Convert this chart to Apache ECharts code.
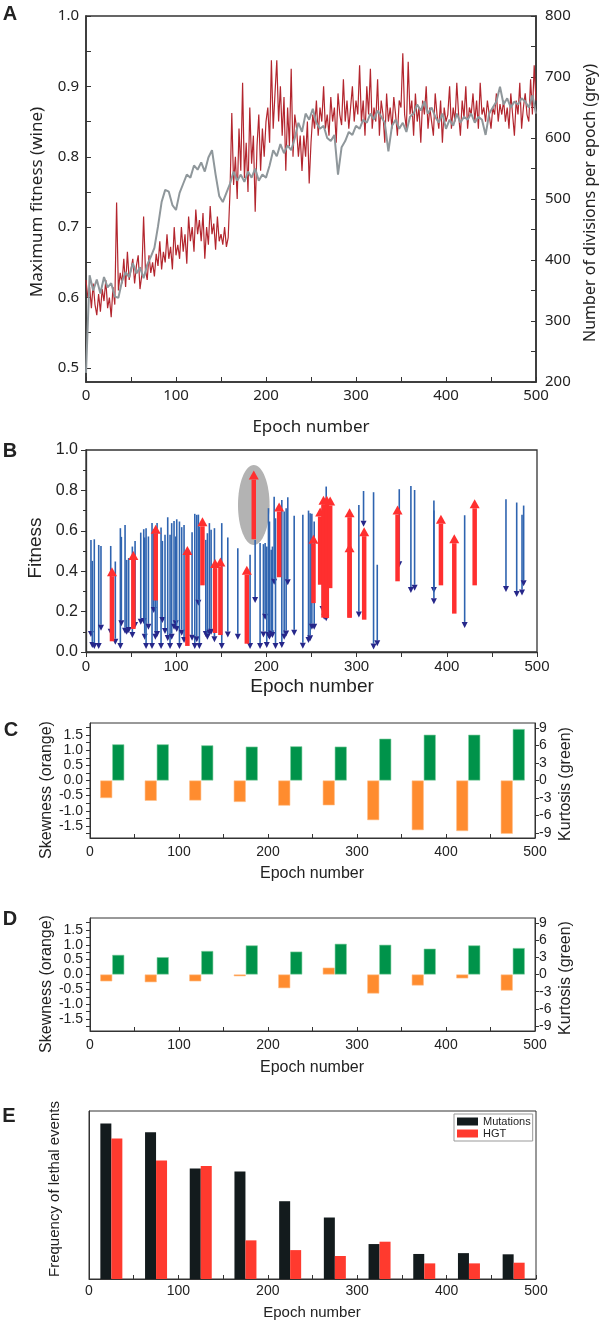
<!DOCTYPE html>
<html><head><meta charset="utf-8">
<script src="https://cdn.jsdelivr.net/npm/echarts@6/dist/echarts.min.js"></script>
<style>html,body{margin:0;padding:0;background:#fff}#c{width:600px;height:1323px}</style>
</head><body><div id="c"></div>
<script>
// ---------- Panel A ----------
const wineStep = 2;
const wineFitness = [
0.625,0.60,0.615,0.585,0.62,0.59,0.575,0.605,0.58,0.612,0.595,0.625,0.585,0.60,0.572,0.615,
0.59,0.735,0.61,0.635,0.62,0.655,0.615,0.665,0.625,0.64,0.655,0.62,0.645,0.66,0.612,
0.632,0.715,0.64,0.625,0.66,0.635,0.65,0.63,0.662,0.645,0.68,0.64,0.665,0.65,0.69,0.655,0.672,0.64,0.70,0.66,
0.675,0.655,0.70,0.665,0.69,0.648,0.715,0.68,0.70,0.665,0.725,0.69,0.71,0.68,0.72,0.655,0.70,0.675,0.73,0.69,0.705,0.668,0.715,0.68,0.69,0.675,0.70,0.672,0.685,0.75,
0.862,0.76,0.80,0.74,0.84,0.78,0.905,0.77,0.82,0.75,0.87,0.79,0.83,0.722,0.815,0.86,0.78,0.84,0.80,0.85,
0.87,0.82,0.937,0.84,0.89,0.937,0.85,0.90,0.83,0.885,0.78,0.87,0.815,0.925,0.80,0.86,0.84,0.80,0.83,0.78,
0.83,0.80,0.85,0.762,0.82,0.86,0.84,0.88,0.83,0.87,0.85,0.90,0.84,0.86,0.83,0.885,0.85,0.87,0.82,0.89,0.86,0.845,0.91,0.85,0.88,0.84,0.87,0.90,0.85,0.88,
0.86,0.93,0.85,0.88,0.83,0.90,0.86,0.925,0.84,0.87,0.85,0.91,0.83,0.88,0.86,0.82,0.89,0.85,0.87,0.84,0.885,0.86,0.83,0.88,0.87,
0.947,0.86,0.84,0.935,0.86,0.88,0.83,0.89,0.85,0.87,0.82,0.88,0.86,0.90,0.84,0.87,0.85,0.83,0.89,0.86,0.84,0.88,0.82,0.87,0.85,
0.86,0.90,0.84,0.87,0.85,0.905,0.86,0.83,0.88,0.855,0.90,0.84,0.87,0.86,0.89,0.85,0.88,0.84,0.905,0.86,0.87,0.85,0.88,0.86,0.84,
0.87,0.86,0.89,0.85,0.875,0.86,0.88,0.85,0.87,0.84,0.89,0.86,0.83,0.88,0.86,0.905,0.84,0.87,0.89,0.86,0.85,0.91,0.86,0.93,0.88
];
const greyStep = 4;
const greyDivisions = [
215,375,350,368,345,372,355,362,340,338,365,
380,372,395,378,388,370,392,405,
420,455,495,515,512,490,482,
510,525,540,535,555,548,560,545,568,580,
540,505,495,510,525,
545,530,540,528,545,535,550,530,540,535,
555,580,570,590,575,588,580,600,625,610,
640,630,648,625,615,620,600,595,605,540,
585,595,610,605,620,615,630,625,640,630,
645,635,625,578,620,630,615,625,610,635,
640,655,645,660,640,650,635,625,640,615,
630,620,640,625,635,630,640,625,635,630,
605,640,650,660,684,655,665,650,660,655,
665,660,650,670,640
];
const fitnessLabelsA = [0.5,0.6,0.7,0.8,0.9,1.0];
const fitnessTicksA = [0.5,0.55,0.6,0.65,0.7,0.75,0.8,0.85,0.9,0.95,1.0];

// ---------- Panel B ----------
const blueEpoch = [5.5,7.0,9.2,14.1,16.6,27.4,32.5,38.1,39.2,43.3,45.1,47.3,51.4,54.4,60.7,64.0,65.1,66.6,69.2,73.2,75.1,76.9,78.8,83.2,84.7,87.6,90.6,93.2,95.0,97.6,99.5,100.6,103.6,106.1,108.7,117.6,120.6,122.8,124.6,125.7,132.8,134.6,136.8,138.7,142.4,150.5,157.2,168.3,181.9,187.5,193.0,196.7,198.6,200.4,202.3,203.4,205.3,206.7,208.6,210.1,217.1,219.7,221.9,223.7,230.8,240.4,246.7,248.5,250.4,253.0,262.2,264.1,266.3,302.5,307.7,318.8,322.9,347.3,360.2,364.3,385.7,385.7,419.8,465.6,477.5,483.4,485.2];
const blueFrom = [0.555,0.451,0.558,0.53,0.525,0.525,0.448,0.613,0.57,0.629,0.456,0.465,0.522,0.55,0.591,0.608,0.567,0.613,0.572,0.638,0.608,0.588,0.638,0.616,0.55,0.58,0.667,0.58,0.638,0.649,0.572,0.657,0.646,0.618,0.629,0.593,0.684,0.679,0.68,0.621,0.555,0.588,0.638,0.605,0.613,0.638,0.567,0.514,0.481,0.555,0.539,0.534,0.539,0.522,0.712,0.646,0.506,0.522,0.769,0.662,0.753,0.695,0.712,0.766,0.674,0.679,0.70,0.687,0.684,0.646,0.728,0.703,0.819,0.728,0.797,0.791,0.432,0.806,0.822,0.802,0.75,0.70,0.677,0.756,0.74,0.679,0.725];
const blueTo = [0.074,0.020,0.015,0.015,0.105,0.086,0.036,0.015,0.127,0.09,0.086,0.094,0.069,0.119,0.135,0.138,0.061,0.015,0.11,0.015,0.193,0.061,0.074,0.015,0.143,0.089,0.054,0.015,0.061,0.11,0.127,0.099,0.015,0.081,0.044,0.056,0.015,0.048,0.229,0.015,0.074,0.061,0.081,0.086,0.048,0.015,0.072,0.061,0.015,0.242,0.015,0.072,0.16,0.02,0.069,0.061,0.077,0.069,0.333,0.015,0.02,0.061,0.077,0.33,0.081,0.016,0.044,0.053,0.11,0.11,0.198,0.16,0.152,0.171,0.62,0.012,0.028,0.42,0.292,0.303,0.292,0.237,0.119,0.297,0.272,0.28,0.325];
const redEpoch = [28.8,52.5,77.3,112.4,129.1,143.1,149.0,178.3,186.0,214.1,252.2,259.6,263.3,267.0,270.7,292.2,292.2,308.4,345.4,393.5,408.3,430.9];
const redFrom = [0.053,0.114,0.255,0.03,0.33,0.094,0.084,0.041,0.558,0.37,0.242,0.333,0.17,0.168,0.316,0.17,0.17,0.16,0.35,0.33,0.19,0.33];
const redTo = [0.42,0.50,0.63,0.525,0.667,0.46,0.468,0.427,0.898,0.74,0.58,0.715,0.773,0.773,0.77,0.712,0.538,0.618,0.725,0.679,0.583,0.756];
const highlight = {epoch: 186, fitness: 0.728, halfEpoch: 17.5, halfFitness: 0.198};

// ---------- Panels C, D, E ----------
const epochBins = ['25','75','125','175','225','275','325','375','425','475'];
const skewC = [-0.58,-0.67,-0.66,-0.71,-0.83,-0.82,-1.31,-1.64,-1.67,-1.76];
const kurtC = [6.19,6.19,6.02,5.80,5.85,5.80,7.16,7.84,7.84,8.81];
const skewD = [-0.23,-0.26,-0.23,-0.06,-0.46,0.23,-0.64,-0.37,-0.13,-0.54];
const kurtD = [3.42,3.02,4.10,5.07,3.99,5.35,5.18,4.50,5.07,4.61];
const skewLabels = [-1.5,-1.0,-0.5,0.0,0.5,1.0,1.5];
const skewTicks = [-1.75,-1.5,-1.25,-1.0,-0.75,-0.5,-0.25,0,0.25,0.5,0.75,1.0,1.25,1.5,1.75];
const kurtLabels = [-9,-6,-3,0,3,6,9];
const mutations = [0.925,0.873,0.657,0.640,0.463,0.366,0.208,0.149,0.154,0.147];
const hgt = [0.836,0.705,0.673,0.230,0.172,0.137,0.222,0.093,0.093,0.097];

// ---------- build ----------
const FA = 'Noto Sans', FB = 'Liberation Sans, Arial, sans-serif';
const wineData = wineFitness.map((v,i)=>[i*wineStep, v]);
const greyData = greyDivisions.map((v,i)=>[i*greyStep, v]);
const blueData = blueEpoch.map((e,i)=>[e, blueFrom[i], blueTo[i]]);
const redData = redEpoch.map((e,i)=>[e, redFrom[i], redTo[i]]);

function arrowRender(lineColor, lineW, headColor, headW, headH){
  return function(params, api){
    const x = api.value(0), a = api.value(1), b = api.value(2);
    const p0 = api.coord([x, a]), p1 = api.coord([x, b]);
    const dir = p1[1] > p0[1] ? 1 : -1;
    const by = p1[1] - dir*headH;
    return {type:'group', children:[
      {type:'line', shape:{x1:p0[0], y1:p0[1], x2:p1[0], y2:by}, style:{stroke:lineColor, lineWidth:lineW}},
      {type:'polygon', shape:{points:[[p1[0]-headW/2, by],[p1[0]+headW/2, by],[p1[0], p1[1]]]}, style:{fill:headColor}}
    ]};
  };
}
function ellipseRender(params, api){
  const c = api.coord([api.value(0), api.value(1)]);
  const s = api.size([api.value(2), api.value(3)]);
  const pts = [];
  for (let k=0;k<64;k++){ const t = k/64*Math.PI*2; pts.push([c[0]+s[0]*Math.cos(t), c[1]+s[1]*Math.sin(t)]); }
  return {type:'polygon', shape:{points:pts}, style:{fill:'#b3b3b3'}};
}

const axA = {color:'#333', width:1.5};
const axB = {color:'#333', width:1.3};
const axC = {color:'#333', width:1};

function gridDef(left, top, w, h, bw){
  return {left, top, width:w, height:h, show:true, borderColor:'#333', borderWidth:bw, backgroundColor:'transparent', containLabel:false, outerBoundsMode:'none'};
}
const grids = [
  gridDef(86, 16, 450, 366, 1.5),
  gridDef(86, 450, 451, 202, 1.3),
  gridDef(90, 723, 445, 115, 1),
  gridDef(90, 918, 445, 113, 1),
  gridDef(89, 1111, 447, 168, 1)
];

function valueX(gi, font, size, inside, margin, lineStyle, len){
  return {type:'value', gridIndex:gi, min:0, max:500, interval:100,
    axisLine:{show:true, onZero:false, lineStyle},
    axisTick:{show:true, inside, length:len, lineStyle:{color:'#333', width:1}},
    minorTick:{show:true, splitNumber:2, length:len, lineStyle:{color:'#333', width:1}},
    splitLine:{show:false}, minorSplitLine:{show:false},
    axisLabel:{color:'#222', fontFamily:font, fontSize:size, margin}};
}
function catX(gi){
  return {type:'category', gridIndex:gi, data:epochBins, show:false, boundaryGap:true};
}
function skewY(gi){
  return {type:'value', gridIndex:gi, min:-1.9, max:1.9, position:'left',
    axisLine:{show:true, onZero:false, lineStyle:axC},
    axisTick:{show:true, inside:false, length:4, customValues:skewTicks, lineStyle:{color:'#333'}},
    splitLine:{show:false},
    axisLabel:{customValues:skewLabels, formatter:v=>v.toFixed(1), color:'#222', fontFamily:FB, fontSize:14, margin:7}};
}
function kurtY(gi){
  return {type:'value', gridIndex:gi, min:-9.85, max:9.85, position:'right',
    axisLine:{show:true, onZero:false, lineStyle:axC},
    axisTick:{show:true, inside:false, length:4, customValues:kurtLabels, lineStyle:{color:'#333'}},
    splitLine:{show:false},
    axisLabel:{customValues:kurtLabels, formatter:v=>String(v), color:'#222', fontFamily:FB, fontSize:14, margin:4}};
}

const xAxes = [
  valueX(0, FA, 15, true, 6, axA, 5),
  valueX(1, FB, 15, false, 7, axB, 5),
  valueX(2, FB, 14, true, 7, axC, 4), catX(2),
  valueX(3, FB, 14, true, 7, axC, 4), catX(3),
  valueX(4, FB, 14, true, 5, axC, 4), catX(4)
];
const yAxes = [
  {type:'value', gridIndex:0, min:0.48, max:1.0, position:'left',
   axisLine:{show:true, onZero:false, lineStyle:axA},
   axisTick:{show:true, inside:true, length:5, customValues:fitnessTicksA, lineStyle:{color:'#333'}},
   splitLine:{show:false},
   axisLabel:{customValues:fitnessLabelsA, formatter:v=>v.toFixed(1), color:'#222', fontFamily:FA, fontSize:15, margin:7}},
  {type:'value', gridIndex:0, min:200, max:800, interval:100, position:'right',
   axisLine:{show:true, onZero:false, lineStyle:axA},
   axisTick:{show:true, inside:true, length:5, lineStyle:{color:'#333'}},
   minorTick:{show:true, splitNumber:2, length:5, lineStyle:{color:'#333'}},
   splitLine:{show:false}, minorSplitLine:{show:false},
   axisLabel:{color:'#222', fontFamily:FA, fontSize:15, margin:9}},
  {type:'value', gridIndex:1, min:0, max:1, interval:0.2, position:'left',
   axisLine:{show:true, onZero:false, lineStyle:axB},
   axisTick:{show:true, inside:false, length:5, lineStyle:{color:'#333'}},
   minorTick:{show:true, splitNumber:2, length:3, lineStyle:{color:'#333'}},
   splitLine:{show:false}, minorSplitLine:{show:false},
   axisLabel:{formatter:v=>v.toFixed(1), color:'#222', fontFamily:FB, fontSize:16, margin:8}},
  skewY(2), kurtY(2), skewY(3), kurtY(3),
  {type:'value', gridIndex:4, min:0, max:1, position:'left',
   axisLine:{show:true, onZero:false, lineStyle:axC}, axisTick:{show:false}, axisLabel:{show:false}, splitLine:{show:false}}
];

const ORANGE = '#ff8c2f', GREEN = '#00934a';
const series = [
  {type:'line', name:'wine', xAxisIndex:0, yAxisIndex:0, data:wineData, showSymbol:false, lineStyle:{color:'#b3262e', width:1.2}, itemStyle:{color:'#b3262e'}, animation:false, z:2},
  {type:'line', name:'grey', xAxisIndex:0, yAxisIndex:1, data:greyData, showSymbol:false, lineStyle:{color:'#8f979b', width:2}, itemStyle:{color:'#8f979b'}, animation:false, z:3},
  {type:'custom', name:'highlight', xAxisIndex:1, yAxisIndex:2, data:[[highlight.epoch, highlight.fitness, highlight.halfEpoch, highlight.halfFitness]], renderItem:ellipseRender, encode:{x:0, y:1}, z:1, animation:false},
  {type:'custom', name:'lethal', xAxisIndex:1, yAxisIndex:2, data:blueData, renderItem:arrowRender('#2f64b0', 1.6, '#26278a', 6, 6), encode:{x:0, y:[1,2]}, z:2, animation:false},
  {type:'custom', name:'beneficial', xAxisIndex:1, yAxisIndex:2, data:redData, renderItem:arrowRender('#ff2f2f', 4.5, '#ff2f2f', 10, 9), encode:{x:0, y:[1,2]}, z:3, animation:false},
  {type:'bar', name:'skewC', xAxisIndex:3, yAxisIndex:3, data:skewC, barWidth:12, barGap:'0%', itemStyle:{color:ORANGE, borderColor:'#ffc08a', borderWidth:0.6}, animation:false},
  {type:'bar', name:'kurtC', xAxisIndex:3, yAxisIndex:4, data:kurtC, barWidth:12, barGap:'0%', itemStyle:{color:GREEN, borderColor:'#7fcf9f', borderWidth:0.6}, animation:false},
  {type:'bar', name:'skewD', xAxisIndex:5, yAxisIndex:5, data:skewD, barWidth:12, barGap:'0%', itemStyle:{color:ORANGE, borderColor:'#ffc08a', borderWidth:0.6}, animation:false},
  {type:'bar', name:'kurtD', xAxisIndex:5, yAxisIndex:6, data:kurtD, barWidth:12, barGap:'0%', itemStyle:{color:GREEN, borderColor:'#7fcf9f', borderWidth:0.6}, animation:false},
  {type:'bar', name:'Mutations', xAxisIndex:7, yAxisIndex:7, data:mutations, barWidth:11, barGap:'0%', itemStyle:{color:'#131b1d'}, animation:false},
  {type:'bar', name:'HGT', xAxisIndex:7, yAxisIndex:7, data:hgt, barWidth:11, barGap:'0%', itemStyle:{color:'#ff3a2e'}, animation:false}
];

function txt(text, x, y, font, rot, weight){
  return {type:'text', x, y, rotation:rot||0, silent:true,
    style:{text, font:(weight||'normal')+' '+font, fill:'#222', textAlign:'center', textVerticalAlign:'middle', align:'center', verticalAlign:'middle'}};
}
const R = Math.PI/2;
const graphics = [
  txt('A', 10, 14, '20px Liberation Sans', 0, 'bold'),
  txt('B', 10, 451, '20px Liberation Sans', 0, 'bold'),
  txt('C', 11, 730, '20px Liberation Sans', 0, 'bold'),
  txt('D', 10, 919, '20px Liberation Sans', 0, 'bold'),
  txt('E', 9, 1116, '20px Liberation Sans', 0, 'bold'),
  txt('Maximum fitness (wine)', 37, 202, '17px Noto Sans', R),
  txt('Number of divisions per epoch (grey)', 590, 203, '16px Noto Sans', R),
  txt('Epoch number', 311, 427, '17px Noto Sans'),
  txt('Fitness', 36, 548, '19px Liberation Sans', R),
  txt('Epoch number', 312, 687, '19px Liberation Sans'),
  txt('Skewness (orange)', 47, 790, '16px Liberation Sans', R),
  txt('Kurtosis (green)', 566, 784, '16px Liberation Sans', R),
  txt('Epoch number', 312, 874, '16px Liberation Sans'),
  txt('Skewness (orange)', 47, 984, '16px Liberation Sans', R),
  txt('Kurtosis (green)', 566, 978, '16px Liberation Sans', R),
  txt('Epoch number', 312, 1068, '16px Liberation Sans'),
  txt('Frequency of lethal events', 55, 1189, '15px Liberation Sans', R),
  txt('Epoch number', 312, 1313, '15px Liberation Sans')
];

const chart = echarts.init(document.getElementById('c'), null, {renderer:'canvas', devicePixelRatio:1});
chart.setOption({
  animation:false,
  backgroundColor:'#fff',
  grid: grids,
  xAxis: xAxes,
  yAxis: yAxes,
  series,
  legend:{data:['Mutations','HGT'], orient:'vertical', left:454, top:1114, icon:'rect', itemWidth:21, itemHeight:8, itemGap:1,
    padding:[2,2,2,3], borderColor:'#999', borderWidth:1, backgroundColor:'#fff',
    textStyle:{fontFamily:FB, fontSize:11, color:'#222', lineHeight:11}, selectedMode:false},
  graphic: graphics
});
</script></body></html>
